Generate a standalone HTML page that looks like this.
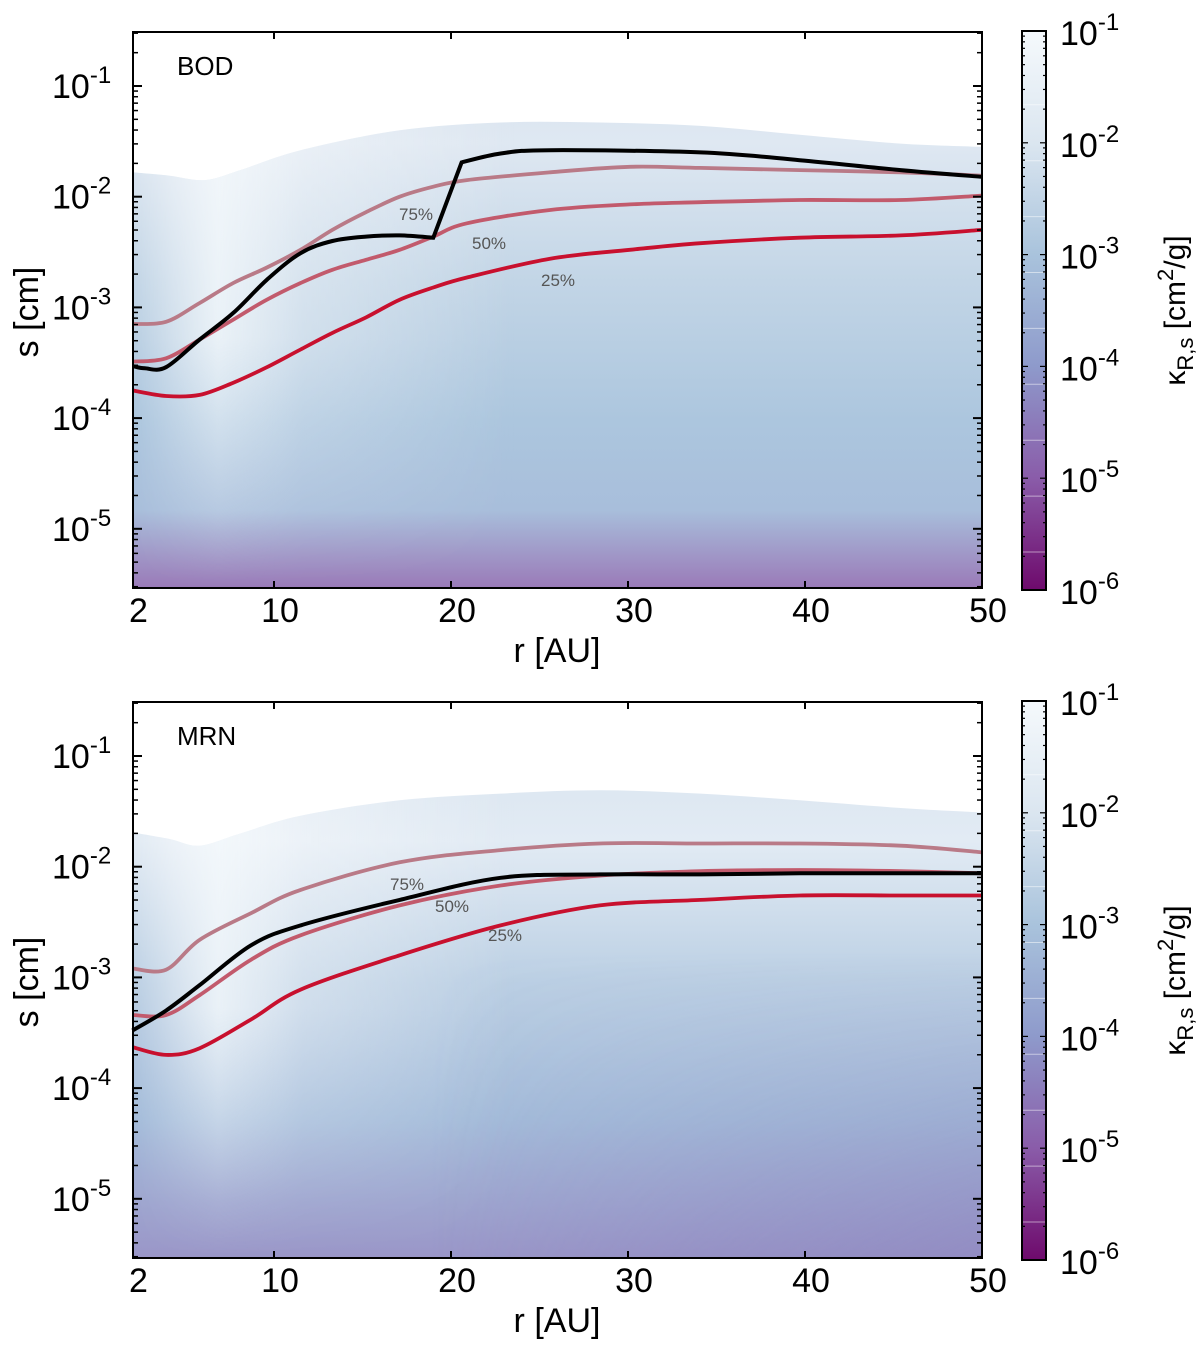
<!DOCTYPE html>
<html><head><meta charset="utf-8"><style>
body{margin:0;background:#fff;}
svg{display:block;font-family:"Liberation Sans",sans-serif;}
</style></head><body>
<svg id="fig" width="1200" height="1348" viewBox="0 0 1200 1348" xmlns="http://www.w3.org/2000/svg">
<defs>
<linearGradient id="vgTop" x1="0" y1="0" x2="0" y2="1">
<stop offset="0" stop-color="#d3e0ec"/><stop offset="0.2" stop-color="#dfe8f2"/>
<stop offset="0.45" stop-color="#c2d5e6"/><stop offset="0.7" stop-color="#acc6de"/>
<stop offset="0.86" stop-color="#a8bedb"/><stop offset="1" stop-color="#9a7ab8"/>
</linearGradient>
<linearGradient id="vgBot" x1="0" y1="0" x2="0" y2="1">
<stop offset="0" stop-color="#d6e2ee"/><stop offset="0.25" stop-color="#e2ebf4"/>
<stop offset="0.5" stop-color="#bcd0e4"/><stop offset="0.75" stop-color="#a4bcda"/>
<stop offset="1" stop-color="#9a96c8"/>
</linearGradient>
<linearGradient id="band" x1="0" y1="0" x2="1" y2="0">
<stop offset="0" stop-color="#fff" stop-opacity="0"/>
<stop offset="0.04" stop-color="#fff" stop-opacity="0.3"/>
<stop offset="0.1" stop-color="#f6fafc" stop-opacity="0.8"/>
<stop offset="0.2" stop-color="#fff" stop-opacity="0.35"/>
<stop offset="0.45" stop-color="#fff" stop-opacity="0"/>
<stop offset="1" stop-color="#fff" stop-opacity="0"/>
</linearGradient>
<linearGradient id="bandFade" x1="0" y1="0" x2="0" y2="1">
<stop offset="0" stop-color="#fff"/><stop offset="0.55" stop-color="#fff"/>
<stop offset="0.9" stop-color="#fff" stop-opacity="0.15"/><stop offset="1" stop-color="#fff" stop-opacity="0"/>
</linearGradient>
<linearGradient id="rightDarkH" x1="0" y1="0" x2="1" y2="0">
<stop offset="0" stop-color="#000"/><stop offset="0.35" stop-color="#000"/>
<stop offset="1" stop-color="#fff"/>
</linearGradient>
<linearGradient id="rightDarkV" x1="0" y1="0" x2="0" y2="1">
<stop offset="0" stop-color="#000"/><stop offset="0.45" stop-color="#000"/>
<stop offset="1" stop-color="#fff"/>
</linearGradient>
<mask id="mBandTop" maskUnits="userSpaceOnUse" x="0" y="0" width="1200" height="1348"><rect x="133" y="32" width="849" height="556" fill="url(#bandFade)"/></mask>
<mask id="mBandBot" maskUnits="userSpaceOnUse" x="0" y="0" width="1200" height="1348"><rect x="133" y="702" width="849" height="556" fill="url(#bandFade)"/></mask>
<mask id="mDark" maskUnits="userSpaceOnUse" x="0" y="0" width="1200" height="1348"><rect x="133" y="702" width="849" height="556" fill="url(#rightDarkH)"/><rect x="133" y="702" width="849" height="556" fill="url(#rightDarkV)" style="mix-blend-mode:multiply"/></mask>
<linearGradient id="cbar" x1="0" y1="0" x2="0" y2="1">
<stop offset="0" stop-color="#f5f9fc"/><stop offset="0.2" stop-color="#dbe6f0"/>
<stop offset="0.4" stop-color="#a9c3dc"/><stop offset="0.6" stop-color="#8e9acb"/>
<stop offset="0.8" stop-color="#8a5ca9"/><stop offset="1" stop-color="#6e0a6c"/>
</linearGradient>
</defs>
</svg>
<script>
// ---------- data ----------
const xTicks=[2,10,20,30,40,50];
const yTickExp=[-1,-2,-3,-4,-5];
const cbarExp=[-1,-2,-3,-4,-5,-6];
// top (BOD)
const bodR_black=[2.03,2.7,3.9,5.8,7.7,9.6,11.5,13.3,15.2,17.1,19.0,20.6,22.8,25.6,34.1,39.7,45.4,50];
const bodS_black=[-3.53,-3.55,-3.54,-3.29,-3.05,-2.75,-2.51,-2.40,-2.36,-2.35,-2.37,-1.69,-1.61,-1.58,-1.60,-1.67,-1.76,-1.82];
const bodR_q=[2.0,3.9,5.8,7.7,9.6,11.5,13.3,15.2,17.1,19.0,20.9,25.6,30.1,34.1,39.7,45.4,50];
const bodS_75=[-3.15,-3.13,-2.96,-2.78,-2.64,-2.48,-2.30,-2.14,-2.00,-1.91,-1.85,-1.78,-1.73,-1.74,-1.76,-1.78,-1.81];
const bodS_50=[-3.49,-3.46,-3.29,-3.11,-2.93,-2.78,-2.66,-2.57,-2.48,-2.36,-2.24,-2.12,-2.07,-2.05,-2.03,-2.03,-1.99];
const bodS_25=[-3.75,-3.80,-3.79,-3.68,-3.54,-3.38,-3.23,-3.09,-2.93,-2.82,-2.73,-2.56,-2.48,-2.42,-2.37,-2.35,-2.30];
const bodEdgeR=[2,4.1,6.1,8.1,11.5,17.1,22.8,28.4,34.1,39.7,45.4,50];
const bodEdgeS=[-1.78,-1.81,-1.85,-1.76,-1.58,-1.40,-1.33,-1.33,-1.36,-1.44,-1.52,-1.55];
// bottom (MRN)
const mrnR=[2.0,3.9,5.8,8.7,11.5,17.1,22.8,28.4,34.1,39.7,45.4,50];
const mrnS_black=[-3.48,-3.30,-3.07,-2.71,-2.53,-2.30,-2.10,-2.07,-2.07,-2.06,-2.06,-2.06];
const mrnS_75=[-2.92,-2.93,-2.66,-2.42,-2.21,-1.96,-1.85,-1.79,-1.79,-1.79,-1.81,-1.87];
const mrnS_50=[-3.34,-3.34,-3.16,-2.84,-2.62,-2.35,-2.17,-2.08,-2.04,-2.03,-2.04,-2.06];
const mrnS_25=[-3.63,-3.70,-3.64,-3.38,-3.11,-2.80,-2.53,-2.35,-2.30,-2.26,-2.26,-2.26];
const mrnEdgeR=[2,4.1,5.8,8.1,11.5,17.1,22.8,28.4,34.1,39.7,45.4,50];
const mrnEdgeS=[-1.69,-1.75,-1.81,-1.70,-1.54,-1.40,-1.34,-1.31,-1.34,-1.40,-1.47,-1.51];

const NS="http://www.w3.org/2000/svg";
const svg=document.getElementById('fig');
const X0=132.4, XPU=17.7, PL=133, PR=982;
function xS(r){return X0+(r-2)*XPU;}
function mk(tag,attrs,parent){const e=document.createElementNS(NS,tag);for(const k in attrs)e.setAttribute(k,attrs[k]);(parent||svg).appendChild(e);return e;}
function smooth(rs,ls,yS,cont){const p=rs.map((r,i)=>[xS(r),yS(ls[i])]);let d=(cont?' L':'M')+p[0][0].toFixed(1)+','+p[0][1].toFixed(1);for(let i=0;i<p.length-1;i++){const p0=p[i-1]||p[i],p1=p[i],p2=p[i+1],p3=p[i+2]||p2;const c1=[p1[0]+(p2[0]-p0[0])/6,p1[1]+(p2[1]-p0[1])/6],c2=[p2[0]-(p3[0]-p1[0])/6,p2[1]-(p3[1]-p1[1])/6];d+=' C'+c1[0].toFixed(1)+','+c1[1].toFixed(1)+' '+c2[0].toFixed(1)+','+c2[1].toFixed(1)+' '+p2[0].toFixed(1)+','+p2[1].toFixed(1);}return d;}
// smooth with sharp corners at given indices
function smoothKinks(rs,ls,yS,kinks){if(!kinks.length)return smooth(rs,ls,yS);let d='',start=0;const cuts=kinks.concat([rs.length-1]);cuts.forEach((k,j)=>{d+=smooth(rs.slice(start,k+1),ls.slice(start,k+1),yS,j>0);start=k;});return d;}

function panel(off,name,fillId,edgeR,edgeS,black,blackR,q,qR,labels,kinks){
  const T=32+off,B=588+off;
  const yS=l=>86+off+(-1-l)*110.7;
  const g=mk('g',{});
  
  
  const cid='clip'+name;
  const cp=mk('clipPath',{id:cid},g);
  mk('path',{d:smooth(edgeR,edgeS,yS)+` L${PR},${B} L${PL},${B} Z`},cp);
  const hm=mk('g',{'clip-path':`url(#${cid})`},g);
  
  
  mk('rect',{x:PL,y:T,width:PR-PL,height:B-T,fill:`url(#${fillId})`},hm);
  if(name==='MRN') mk('rect',{x:PL,y:T,width:PR-PL,height:B-T,fill:'#8a80bc','fill-opacity':0.45,mask:'url(#mDark)'},hm);
  mk('rect',{x:PL,y:T,width:PR-PL,height:B-T,fill:'url(#band)',mask:name==='MRN'?'url(#mBandBot)':'url(#mBandTop)'},hm);
  const qc=['#b97a87','#c25a6c','#c8102e'];
  const qn=['contour-75-percent','contour-50-percent','contour-25-percent'];
  q.forEach((arr,i)=>{const p=mk('path',{d:smooth(qR,arr,yS),fill:'none',stroke:qc[i],'stroke-width':3.8},g);
    
    });
  const bl=mk('path',{d:smoothKinks(blackR,black,yS,kinks),fill:'none',stroke:'#000','stroke-width':4,'stroke-linejoin':'miter'},g);
  
  
  labels.forEach(l=>{const t=mk('text',{x:l[1],y:l[2]+off,'font-size':17,fill:'#555','text-anchor':'middle'},g);t.textContent=l[0];
    
    });
  const fr=mk('rect',{x:PL,y:T,width:PR-PL,height:B-T,fill:'none',stroke:'#000','stroke-width':2},g);
  
  
  xTicks.forEach(v=>{const x=xS(v);
    if(v>2&&v<50){mk('line',{x1:x,x2:x,y1:B,y2:B-7,stroke:'#000','stroke-width':2},g);mk('line',{x1:x,x2:x,y1:T,y2:T+7,stroke:'#000','stroke-width':2},g);}
    const t=mk('text',{x:x+6,y:B+34,'font-size':34,'text-anchor':'middle'},g);t.textContent=v;
    
    });
  for(let e=-6;e<=0;e++){for(let m=1;m<10;m++){const l=e+Math.log10(m);const y=yS(l);if(y<T||y>B)continue;
    const len=m===1?9:5;mk('line',{x1:PL,x2:PL+len,y1:y,y2:y,stroke:'#000','stroke-width':m===1?2:1.5},g);mk('line',{x1:PR,x2:PR-len,y1:y,y2:y,stroke:'#000','stroke-width':m===1?2:1.5},g);}}
  yTickExp.forEach(e=>{const y=yS(e);const t=mk('text',{x:52,y:y+12,'font-size':34},g);
    
    
    t.innerHTML='10<tspan dy="-15" font-size="24">'+e+'</tspan>';});
  const xt=mk('text',{x:557,y:B+74,'font-size':34,'text-anchor':'middle'},g);xt.textContent='r [AU]';
  
  
  const yt=mk('text',{x:0,y:0,'font-size':34,'text-anchor':'middle',transform:`translate(38,${(T+B)/2+2}) rotate(-90)`},g);yt.textContent='s [cm]';
  
  
  const nm=mk('text',{x:177,y:T+43,'font-size':26},g);nm.textContent=name;
  
  
  const cb=mk('g',{},g);
  
  
  const cT=31+off,cB=590+off,cL=1022,cR=1046,dec=(cB-cT)/5;
  mk('rect',{x:cL,y:cT,width:cR-cL,height:cB-cT,fill:'url(#cbar)'},cb);
  for(let i=1;i<10;i++){mk('line',{x1:cL+1,x2:cR-1,y1:cT+dec*(i*0.5+0.16),y2:cT+dec*(i*0.5+0.16),stroke:'#fff','stroke-opacity':0.5,'stroke-width':1},cb);}
  for(let d=0;d<5;d++)for(let m=1;m<10;m++){const y=cB-dec*(d+Math.log10(m));const len=m===1?6:3;
    mk('line',{x1:cL,x2:cL+len,y1:y,y2:y,stroke:'#000','stroke-width':1.2},cb);mk('line',{x1:cR,x2:cR-len,y1:y,y2:y,stroke:'#000','stroke-width':1.2},cb);}
  mk('rect',{x:cL,y:cT,width:cR-cL,height:cB-cT,fill:'none',stroke:'#000','stroke-width':2},cb);
  cbarExp.forEach((e,i)=>{const t=mk('text',{x:1060,y:cT+dec*i+14,'font-size':34},cb);
    
    
    t.innerHTML='10<tspan dy="-15" font-size="24">'+e+'</tspan>';});
  const ct=mk('text',{x:0,y:0,'font-size':30,'text-anchor':'middle',transform:`translate(1185,${(cT+cB)/2}) rotate(-90)`},cb);
  
  
  ct.innerHTML='κ<tspan dy="8" font-size="22">R,s</tspan><tspan dy="-8"> [cm</tspan><tspan dy="-12" font-size="22">2</tspan><tspan dy="12">/g]</tspan>';
}
panel(0,'BOD','vgTop',bodEdgeR,bodEdgeS,bodS_black,bodR_black,[bodS_75,bodS_50,bodS_25],bodR_q,[['75%',416,220],['50%',489,249],['25%',558,286]],[10,11]);
panel(670,'MRN','vgBot',mrnEdgeR,mrnEdgeS,mrnS_black,mrnR,[mrnS_75,mrnS_50,mrnS_25],mrnR,[['75%',407,220],['50%',452,242],['25%',505,271]],[]);
</script>
</body></html>
